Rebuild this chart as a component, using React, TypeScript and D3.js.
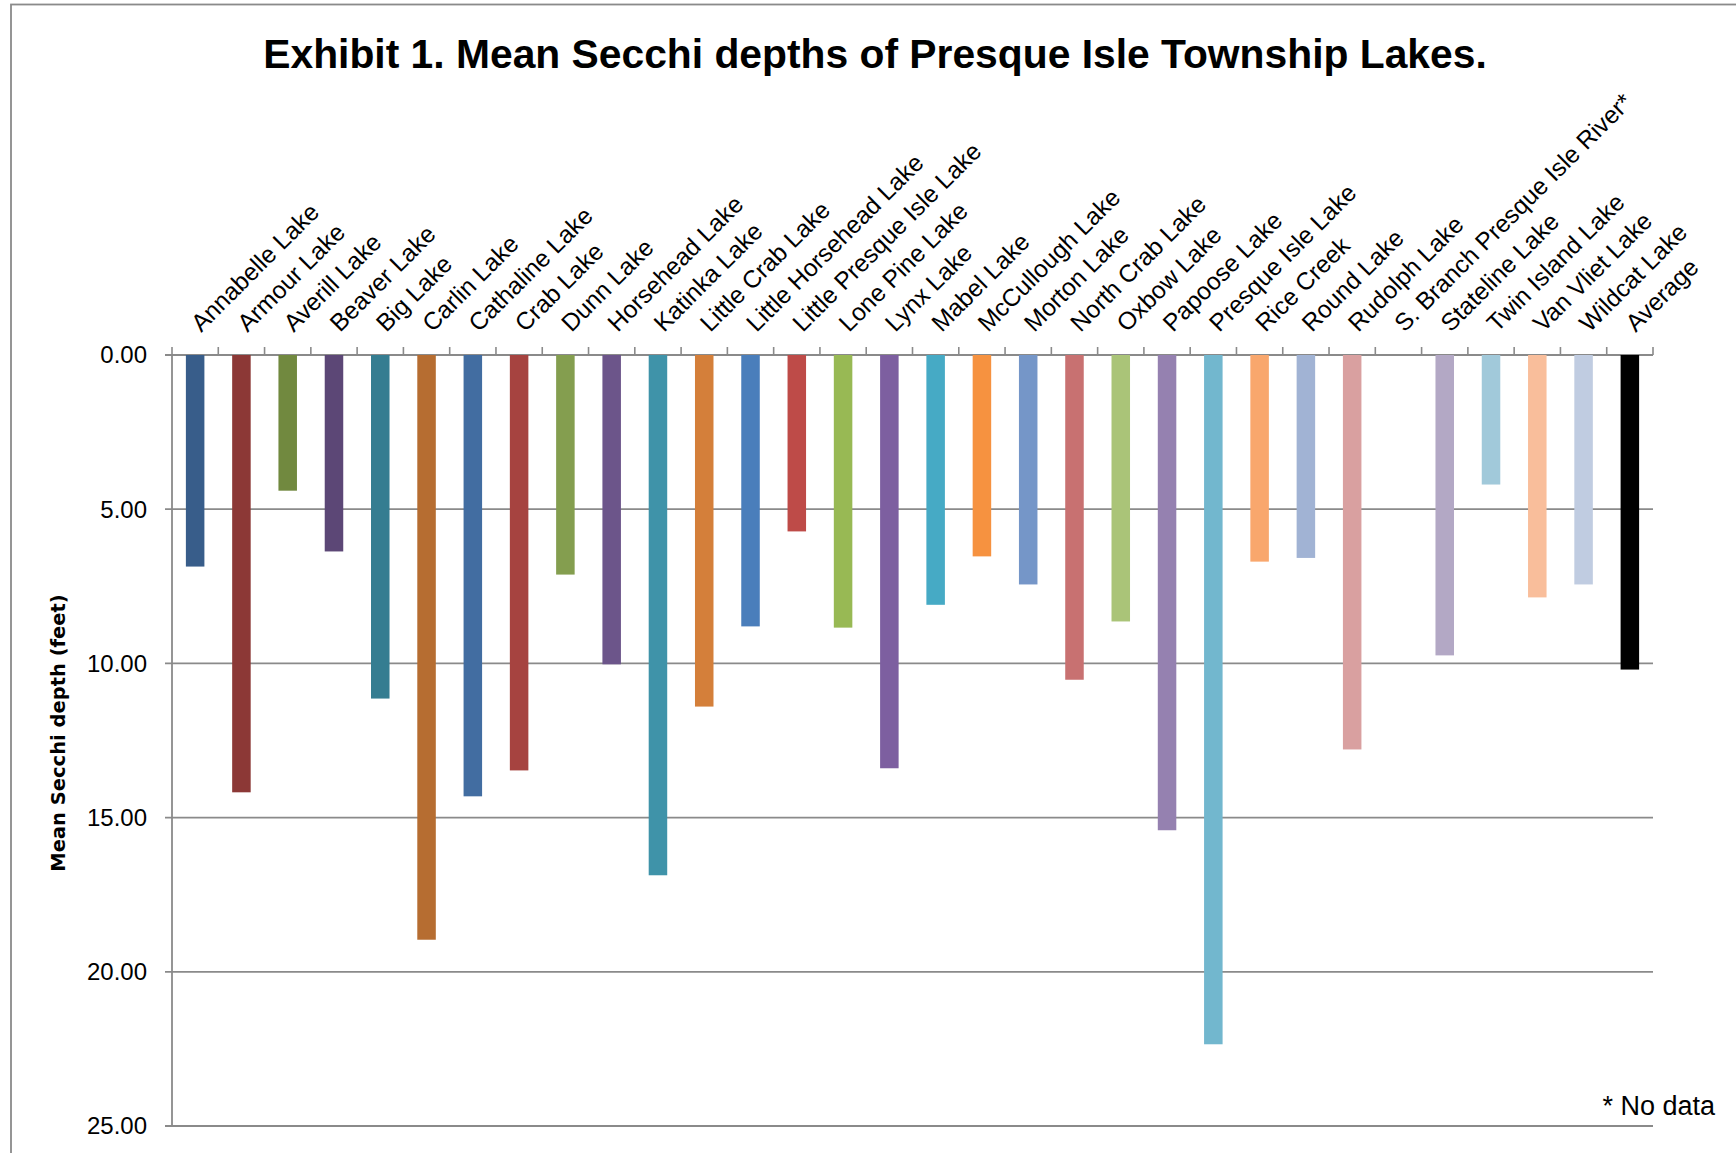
import React from "react";
import * as d3 from "d3";

const lakes: string[] = [
  "Annabelle Lake", "Armour Lake", "Averill Lake", "Beaver Lake", "Big Lake",
  "Carlin Lake", "Cathaline Lake", "Crab Lake", "Dunn Lake", "Horsehead Lake",
  "Katinka Lake", "Little Crab Lake", "Little Horsehead Lake", "Little Presque Isle Lake",
  "Lone Pine Lake", "Lynx Lake", "Mabel Lake", "McCullough Lake", "Morton Lake",
  "North Crab Lake", "Oxbow Lake", "Papoose Lake", "Presque Isle Lake", "Rice Creek",
  "Round Lake", "Rudolph Lake", "S. Branch Presque Isle River*", "Stateline Lake",
  "Twin Island Lake", "Van Vliet Lake", "Wildcat Lake", "Average",
];

const depths: (number | null)[] = [
  6.86, 14.18, 4.40, 6.37, 11.14,
  18.96, 14.31, 13.47, 7.12, 10.03,
  16.87, 11.40, 8.80, 5.72,
  8.84, 13.40, 8.10, 6.53, 7.44,
  10.53, 8.64, 15.41, 22.35, 6.70,
  6.58, 12.79, null, 9.74,
  4.20, 7.86, 7.44, 10.20,
];

const barColors: string[] = [
  "#385D8A", "#8C3836", "#71893F", "#5C4776", "#357D91",
  "#B66D31", "#426DA1", "#A64340", "#849E4F", "#6C558A",
  "#3F93A9", "#D47F3A", "#4A7EBB", "#BE4B48",
  "#98B954", "#7D5FA0", "#46AAC5", "#F69240", "#7596C8",
  "#C87171", "#AAC478", "#9581B0", "#72B7CE", "#F9A76D",
  "#A1B3D4", "#D9A0A0", "#FFFFFF", "#B3A8C5",
  "#A1C9DA", "#F9BE9B", "#C0CCE1", "#000000",
];

const yTicks: number[] = [0, 5, 10, 15, 20, 25];

const title = "Exhibit 1. Mean Secchi depths of Presque Isle Township Lakes.";
const yTitle = "Mean Secchi depth (feet)";
const note = "* No data";

const W = 1736;
const H = 1153;
const plotLeft = 172;
const plotRight = 1653;
const plotTop = 355;
const plotBottom = 1126;
const gridColor = "#8A8A8A";
const labelFont = "'Liberation Sans', Arial, sans-serif";

export default function App() {
  const x = d3
    .scaleBand<string>()
    .domain(lakes)
    .range([plotLeft, plotRight])
    .paddingInner(0.6)
    .paddingOuter(0.3);
  const y = d3.scaleLinear().domain([0, 25]).range([plotTop, plotBottom]);
  const step = x.step();
  const boundaries = d3.range(lakes.length + 1).map((i) => plotLeft + i * step);

  return (
    <svg
      width={W}
      height={H}
      style={{ position: "absolute", left: 0, top: 0, background: "#fff" }}
    >
      <rect x={0} y={0} width={W} height={H} fill="#fff" />
      <rect x={11} y={4.5} width={W + 20} height={H + 20} fill="none" stroke="#8A8A8A" strokeWidth={1.8} />

      <text
        x={875}
        y={68}
        textAnchor="middle"
        fontFamily={labelFont}
        fontWeight="bold"
        fontSize={40.8}
        fill="#000"
      >
        {title}
      </text>

      {yTicks.map((t) => (
        <line
          key={"g" + t}
          x1={plotLeft - 7}
          x2={plotRight}
          y1={y(t)}
          y2={y(t)}
          stroke={gridColor}
          strokeWidth={1.8}
        />
      ))}

      <line x1={plotLeft} x2={plotLeft} y1={plotTop} y2={plotBottom} stroke={gridColor} strokeWidth={1.8} />
      {yTicks.map((t) => (
        <text
          key={"yt" + t}
          x={147}
          y={y(t)}
          dy="0.35em"
          textAnchor="end"
          fontFamily={labelFont}
          fontSize={24}
          fill="#000"
        >
          {t.toFixed(2)}
        </text>
      ))}

      {boundaries.map((bx, i) => (
        <line
          key={"ct" + i}
          x1={bx}
          x2={bx}
          y1={plotTop}
          y2={plotTop - 8}
          stroke={gridColor}
          strokeWidth={1.6}
        />
      ))}

      {lakes.map((l, i) => {
        const v = depths[i];
        if (v === null) return null;
        return (
          <rect
            key={"b" + l}
            x={x(l)}
            y={y(0)}
            width={x.bandwidth()}
            height={y(v) - y(0)}
            fill={barColors[i]}
          />
        );
      })}

      {lakes.map((l) => {
        const cx = (x(l) as number) + x.bandwidth() / 2;
        return (
          <text
            key={"cl" + l}
            transform={`translate(${cx + 6},${333}) rotate(-45)`}
            fontFamily={labelFont}
            fontSize={24.5}
            fill="#000"
          >
            {l}
          </text>
        );
      })}

      <text
        transform={`translate(65,733) rotate(-90)`}
        textAnchor="middle"
        fontFamily="'DejaVu Sans', sans-serif"
        fontWeight="bold"
        fontSize={19.5}
        fill="#000"
      >
        {yTitle}
      </text>

      <text
        x={1715}
        y={1115}
        textAnchor="end"
        fontFamily={labelFont}
        fontSize={27}
        fill="#000"
      >
        {note}
      </text>
    </svg>
  );
}
